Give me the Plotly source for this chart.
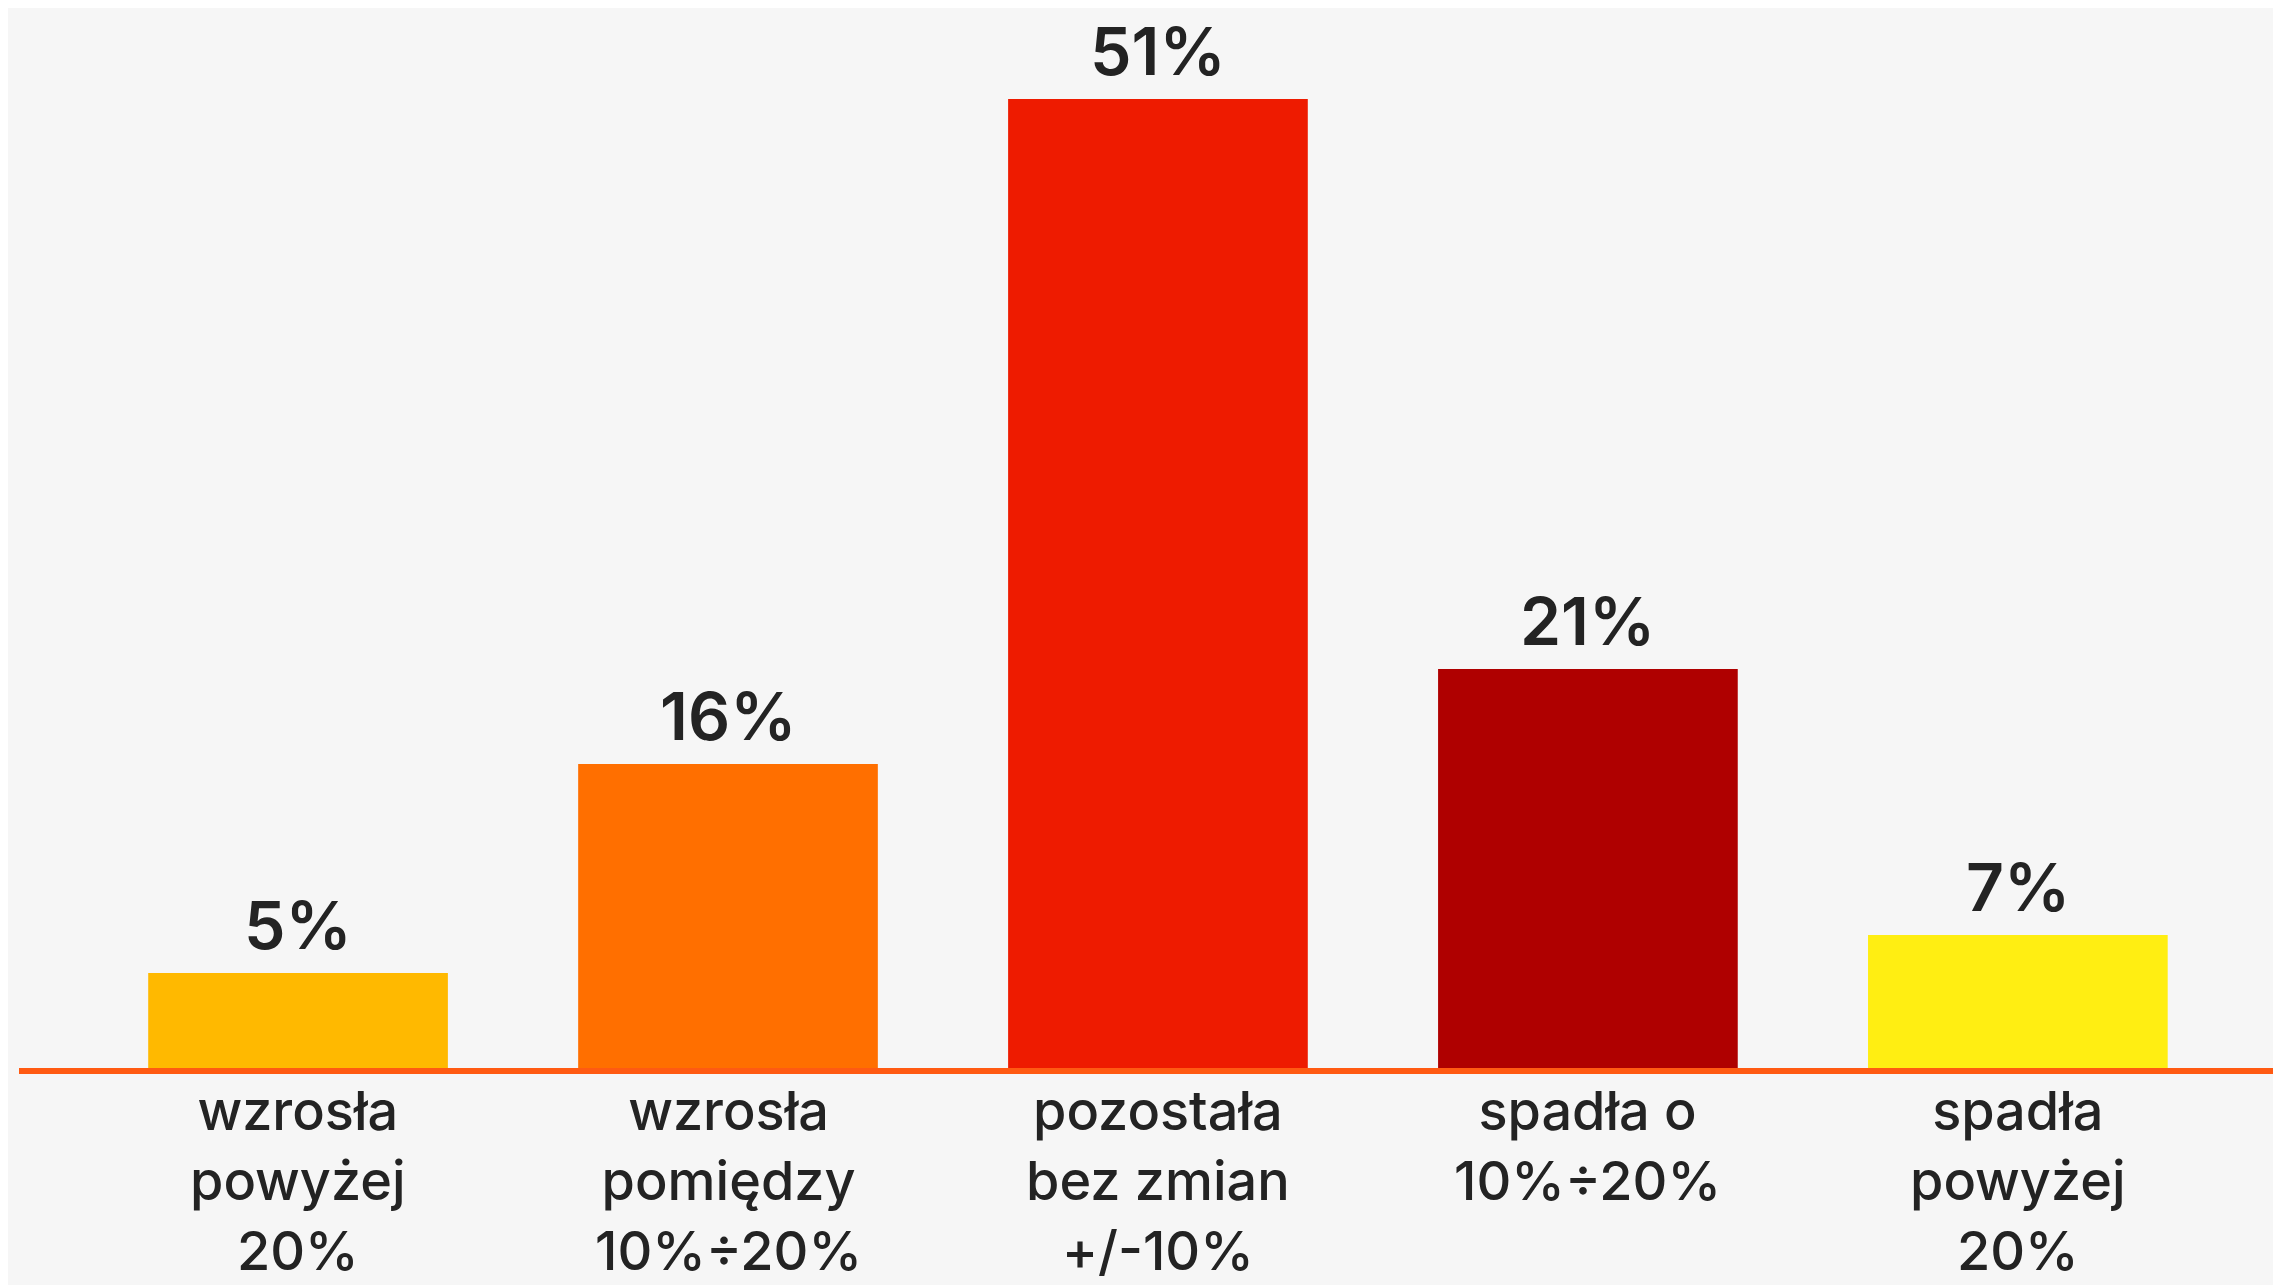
import plotly.graph_objects as go

categories = ["wzrosła powyżej 20%", "wzrosła pomiędzy 10%÷20%", "pozostała bez zmian +/-10%",
              "spadła o 10%÷20%", "spadła powyżej 20%"]
label_lines = [["wzrosła", "powyżej", "20%"],
               ["wzrosła", "pomiędzy", "10%÷20%"],
               ["pozostała", "bez zmian", "+/-10%"],
               ["spadła o", "10%÷20%"],
               ["spadła", "powyżej", "20%"]]
values = [5, 16, 51, 21, 7]
colors = ["#FFB900", "#FF6F00", "#EE1B00", "#AF0000", "#FFEE12"]

FONT = "Inter"
TXT = "#232323"

fig = go.Figure()
fig.add_trace(go.Bar(
    x=categories, y=values,
    marker=dict(color=colors, line=dict(width=0)),
    cliponaxis=False, hoverinfo="skip",
))

annotations = []
for cat, v in zip(categories, values):
    annotations.append(dict(
        x=cat, y=v, xref="x", yref="y", yanchor="bottom", xanchor="center",
        yshift=6, text=f"{v}%", showarrow=False,
        font=dict(family=FONT, size=66, color=TXT, weight=600),
    ))
for cat, lines in zip(categories, label_lines):
    annotations.append(dict(
        x=cat, y=0, xref="x", yref="y", yanchor="top", xanchor="center",
        yshift=-9, text="<br>".join(lines), showarrow=False, align="center",
        borderpad=0,
        font=dict(family=FONT, size=54, color=TXT, weight=500),
    ))

fig.update_layout(
    width=2273, height=1277,
    margin=dict(l=11, r=0, t=0, b=217),
    paper_bgcolor="#F6F6F6", plot_bgcolor="#F6F6F6",
    bargap=0.303, showlegend=False,
    annotations=annotations,
    xaxis=dict(type="category", range=[-0.649, 4.612], showticklabels=False,
               showgrid=False, zeroline=False, showline=True,
               linecolor="#FF5A12", linewidth=6, ticks=""),
    yaxis=dict(range=[0, 1060 / 19], visible=False, showgrid=False, zeroline=False),
)

fig.write_html("out.html")
